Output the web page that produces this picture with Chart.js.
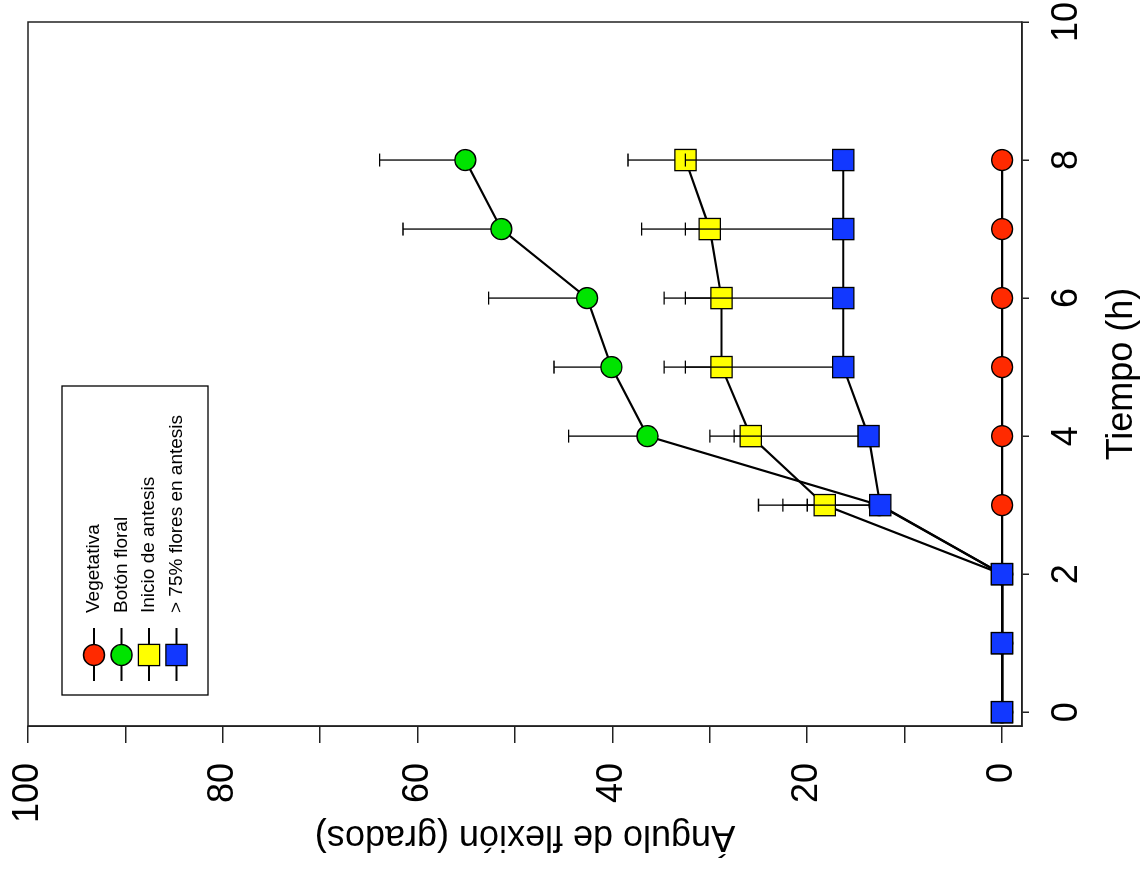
<!DOCTYPE html>
<html lang="es">
<head>
<meta charset="utf-8">
<title>Ángulo de flexión</title>
<script src="https://cdn.jsdelivr.net/npm/chart.js@4.4.1/dist/chart.umd.min.js"></script>
<style>
    html, body { margin: 0; padding: 0; background: #fff; overflow: hidden; }
    /* the figure is drawn upright and then turned a quarter turn to the left */
    #wrap {
        position: absolute; left: 0; top: 0;
        width: 871px; height: 1145px;
        transform-origin: 0 0;
        transform: translate(0, 871px) rotate(-90deg);
    }
</style>
</head>
<body>
<div id="wrap"><canvas id="flexionChart" width="871" height="1145"></canvas></div>
<script>
// Tiempo (h)
const tiempo = [0, 1, 2, 3, 4, 5, 6, 7, 8];

// Ángulo de flexión (grados) y error (solo hacia arriba)
const vegetativa = [0, 0, 0, 0, 0, 0, 0, 0, 0];
const vegetativaErr = [0, 0, 0, 0, 0, 0, 0, 0, 0];
const botonFloral = [0, 0, 0, 12.6, 36.4, 40.1, 42.6, 51.4, 55.1];
const botonFloralErr = [0, 0, 0, 7.4, 8.1, 5.9, 10.1, 10.1, 8.8];
const inicioAntesis = [0, 0, 0, 18.2, 25.8, 28.8, 28.8, 30.0, 32.5];
const inicioAntesisErr = [0, 0, 0, 4.3, 4.2, 5.9, 5.9, 7.0, 5.9];
const floresAntesis = [0, 0, 0, 12.5, 13.7, 16.3, 16.3, 16.3, 16.3];
const floresAntesisErr = [0, 0, 0, 12.5, 13.8, 16.2, 16.2, 16.2, 16.2];

const serieNombres = ['Vegetativa', 'Botón floral', 'Inicio de antesis', '> 75% flores en antesis'];

// axis ticks
const tiempoTicks = [0, 2, 4, 6, 8, 10];
const anguloTicks = [0, 10, 20, 30, 40, 50, 60, 70, 80, 90, 100];

(function() {
    'use strict';

    const FONT = "'Liberation Sans', Arial, sans-serif";
    Chart.defaults.font.family = FONT;
    Chart.defaults.color = '#000';

    function puntos(valores) {
        return tiempo.map(function(t, i) { return { x: t, y: valores[i] }; });
    }

    function serie(label, valores, errores, color, style, radius, order) {
        return {
            label: label,
            data: puntos(valores),
            errores: errores,
            borderColor: '#000',
            borderWidth: 2.2,
            tension: 0,
            pointStyle: style,
            pointRadius: radius,
            pointBackgroundColor: color,
            pointBorderColor: '#000',
            pointBorderWidth: 1.3,
            clip: false,
            order: order
        };
    }

    // vertical error bars with a cap, drawn just before each dataset
    const errorBars = {
        id: 'errorBars',
        beforeDatasetDraw(chart, args) {
            const ds = chart.data.datasets[args.index];
            if (!ds.errores) return;
            const ctx = chart.ctx;
            const xs = chart.scales.x;
            const ys = chart.scales.y;
            ctx.save();
            ctx.strokeStyle = '#000';
            ctx.lineWidth = 1.3;
            ds.data.forEach(function(p, i) {
                const e = ds.errores[i];
                if (!e) return;
                const px = xs.getPixelForValue(p.x);
                const y0 = ys.getPixelForValue(p.y);
                const y1 = ys.getPixelForValue(p.y + e);
                ctx.beginPath();
                ctx.moveTo(px, y0);
                ctx.lineTo(px, y1);
                ctx.moveTo(px - 6.5, y1);
                ctx.lineTo(px + 6.5, y1);
                ctx.stroke();
            });
            ctx.restore();
        }
    };

    // box round the plot area
    const frame = {
        id: 'frame',
        beforeDatasetsDraw(chart) {
            const a = chart.chartArea;
            const ctx = chart.ctx;
            ctx.save();
            ctx.strokeStyle = '#222';
            ctx.lineWidth = 1.5;
            ctx.strokeRect(a.left, a.top, a.right - a.left, a.bottom - a.top);
            ctx.restore();
        }
    };

    // SigmaPlot style legend: line through the symbol, boxed
    const legendBox = {
        id: 'legendBox',
        afterDraw(chart) {
            const a = chart.chartArea;
            const ctx = chart.ctx;
            const left = a.left + 31;
            const top = a.top + 34;
            ctx.save();
            ctx.strokeStyle = '#000';
            ctx.lineWidth = 1.3;
            ctx.strokeRect(left, top, 309, 146);
            chart.data.datasets.forEach(function(ds, i) {
                const y = top + 32 + i * 27.5;
                ctx.strokeStyle = '#000';
                ctx.lineWidth = 1.8;
                ctx.beginPath();
                ctx.moveTo(left + 14, y);
                ctx.lineTo(left + 67, y);
                ctx.stroke();
                ctx.fillStyle = ds.pointBackgroundColor;
                ctx.lineWidth = 1.3;
                Chart.helpers.drawPoint(ctx, {
                    pointStyle: ds.pointStyle,
                    radius: ds.pointRadius,
                    rotation: 0,
                    borderWidth: 1.3
                }, left + 40, y);
                ctx.fillStyle = '#000';
                ctx.font = '19px ' + FONT;
                ctx.textBaseline = 'middle';
                ctx.textAlign = 'left';
                ctx.fillText(ds.label, left + 82, y);
            });
            ctx.restore();
        }
    };

    const ctx = document.getElementById('flexionChart').getContext('2d');
    new Chart(ctx, {
        type: 'line',
        data: {
            datasets: [
                serie(serieNombres[0], vegetativa, vegetativaErr, '#ff2a00', 'circle', 10.5, 4),
                serie(serieNombres[1], botonFloral, botonFloralErr, '#00e400', 'circle', 10.5, 3),
                serie(serieNombres[2], inicioAntesis, inicioAntesisErr, '#ffff00', 'rect', 15, 2),
                serie(serieNombres[3], floresAntesis, floresAntesisErr, '#1238ff', 'rect', 15, 1)
            ]
        },
        options: {
            responsive: false,
            devicePixelRatio: 1,
            animation: false,
            events: [],
            layout: { padding: { top: 28, right: 22, left: 0, bottom: 0 } },
            plugins: {
                legend: { display: false },
                tooltip: { enabled: false }
            },
            scales: {
                x: {
                    type: 'linear',
                    min: -0.2,
                    max: 10,
                    afterBuildTicks: function(scale) {
                        scale.ticks = tiempoTicks.map(function(v) { return { value: v }; });
                    },
                    afterFit: function(scale) {
                        scale.height = 123;
                        scale.paddingLeft = 0;
                        scale.paddingRight = 0;
                    },
                    grid: { drawOnChartArea: false, drawTicks: true, tickLength: 7, color: '#222', lineWidth: 1.5 },
                    border: { display: true, color: '#222', width: 1.5 },
                    ticks: { font: { size: 36 }, padding: 16, maxRotation: 0, autoSkip: false },
                    title: { display: true, text: 'Tiempo (h)', font: { size: 36 }, padding: { top: 0, bottom: 1 } }
                },
                y: {
                    min: -2.05,
                    max: 100,
                    afterBuildTicks: function(scale) {
                        scale.ticks = anguloTicks.map(function(v) { return { value: v }; });
                    },
                    afterFit: function(scale) {
                        scale.width = 145;
                        scale.paddingTop = 0;
                        scale.paddingBottom = 0;
                    },
                    grid: { drawOnChartArea: false, drawTicks: true, tickLength: 17, color: '#222', lineWidth: 1.5 },
                    border: { display: true, color: '#222', width: 1.5 },
                    ticks: {
                        font: { size: 36 },
                        padding: 20,
                        autoSkip: false,
                        callback: function(v) { return v % 20 === 0 ? String(v) : ''; }
                    },
                    title: { display: true, text: 'Ángulo de flexión (grados)', font: { size: 36 }, padding: { top: 13, bottom: 0 } }
                }
            }
        },
        plugins: [frame, errorBars, legendBox]
    });
})();
</script>
</body>
</html>
